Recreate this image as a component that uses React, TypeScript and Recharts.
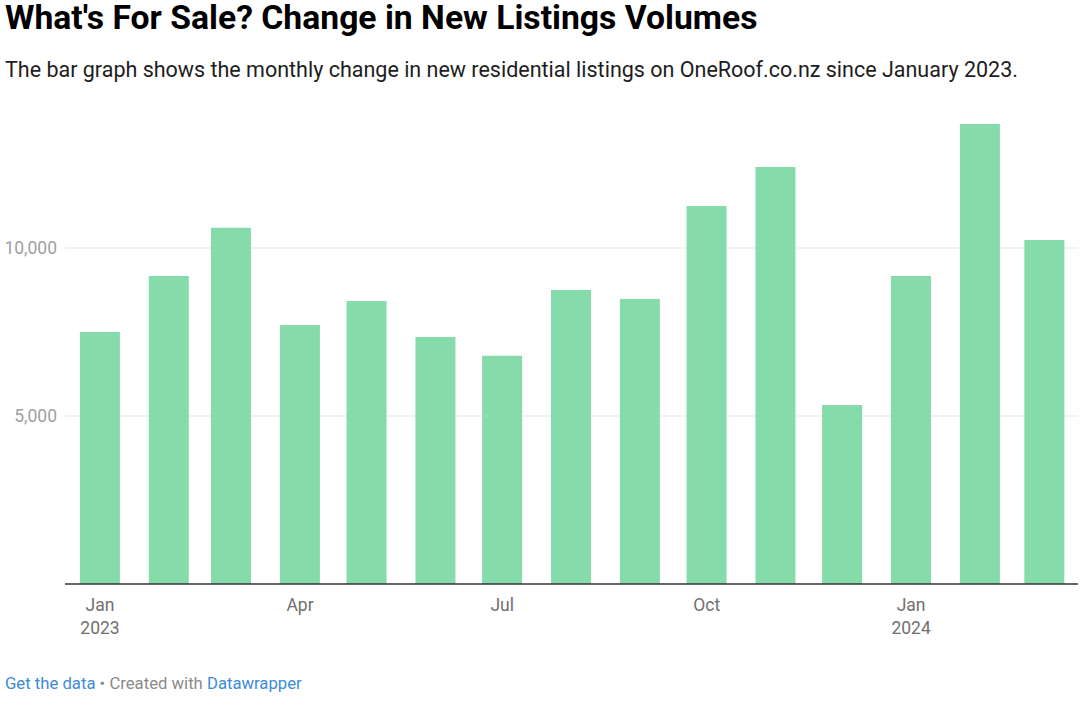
import React from "react";
import { Bar, BarChart, CartesianGrid, XAxis, YAxis } from "recharts";

const months = [
  "Jan 2023", "Feb 2023", "Mar 2023", "Apr 2023", "May 2023", "Jun 2023", "Jul 2023",
  "Aug 2023", "Sep 2023", "Oct 2023", "Nov 2023", "Dec 2023", "Jan 2024", "Feb 2024", "Mar 2024",
];
const newListings = [
  7500, 9170, 10600, 7710, 8420, 7350, 6790, 8750, 8480, 11250, 12410, 5330, 9170, 13690, 10240,
];
const yTicks = [5000, 10000];
const xTickMonths = ["Jan 2023", "Apr 2023", "Jul 2023", "Oct 2023", "Jan 2024"];
const xTickLabels = [["Jan", "2023"], ["Apr"], ["Jul"], ["Oct"], ["Jan", "2024"]];

const MONTH_NAMES = ["Jan", "Feb", "Mar", "Apr", "May", "Jun", "Jul", "Aug", "Sep", "Oct", "Nov", "Dec"];
const DAY = 86400000;
const BASE = Date.UTC(2023, 0, 1);

// days since 1 Jan 2023, so bars sit on a time scale like the original
function toDay(label: string) {
  const [m, y] = label.split(" ");
  return (Date.UTC(Number(y), MONTH_NAMES.indexOf(m), 1) - BASE) / DAY;
}

const data = months.map((m, i) => ({ month: m, day: toDay(m), value: newListings[i] }));
const xTickDays = xTickMonths.map(toDay);

const FONT = "Roboto, 'Noto Sans', sans-serif";

function MonthTick(props: any) {
  const { x, y, payload } = props;
  const idx = xTickDays.indexOf(payload.value);
  const lines = idx >= 0 ? xTickLabels[idx] : [];
  return (
    <g>
      {lines.map((t, i) => (
        <text
          key={i}
          x={x}
          y={y + 27 + i * 22.5}
          textAnchor="middle"
          fill="#707070"
          fontSize={17.5}
          fontFamily={FONT}
        >
          {t}
        </text>
      ))}
    </g>
  );
}

export default function App() {
  return (
    <div style={{ position: "absolute", left: 0, top: 0, width: 1080, height: 702, background: "#fff", fontFamily: FONT }}>
      <div style={{ position: "absolute", left: 5, top: -2, fontSize: 33.7, fontWeight: 700, color: "#000", whiteSpace: "nowrap", lineHeight: "40px" }}>
        What's For Sale? Change in New Listings Volumes
      </div>
      <div style={{ position: "absolute", left: 5, top: 56, fontSize: 21.5, color: "#1d1d1d", whiteSpace: "nowrap", lineHeight: "28px" }}>
        The bar graph shows the monthly change in new residential listings on OneRoof.co.nz since January 2023.
      </div>
      <div style={{ position: "absolute", left: 0, top: 0 }}>
        <BarChart width={1080} height={702} data={data} margin={{ top: 113.6, right: 2, bottom: 0, left: 0 }}>
          <CartesianGrid vertical={false} horizontalValues={yTicks} stroke="#e5e5e5" strokeWidth={1} />
          <XAxis
            dataKey="day"
            type="number"
            domain={[-15.75, 440.1]}
            allowDataOverflow
            ticks={xTickDays}
            interval={0}
            height={118}
            tickLine={false}
            tickSize={0}
            tickMargin={0}
            axisLine={{ stroke: "#333", strokeWidth: 1.3 }}
            tick={<MonthTick />}
          />
          <YAxis
            width={65}
            domain={[0, 14000]}
            ticks={yTicks}
            allowDataOverflow
            axisLine={false}
            tickLine={false}
            tickSize={0}
            tickMargin={8}
            tick={{ fill: "#a0a0a0", fontSize: 17.5, fontFamily: FONT }}
            tickFormatter={(v: number) => v.toLocaleString("en-US")}
          />
          <Bar dataKey="value" fill="#86dbab" barSize={40} isAnimationActive={false} />
        </BarChart>
      </div>
      <div style={{ position: "absolute", left: 5, top: 673, fontSize: 16.7, color: "#8a8a8a", whiteSpace: "nowrap", lineHeight: "22px" }}>
        <span style={{ color: "#3d8bd6" }}>Get the data</span> • Created with <span style={{ color: "#3d8bd6" }}>Datawrapper</span>
      </div>
    </div>
  );
}
